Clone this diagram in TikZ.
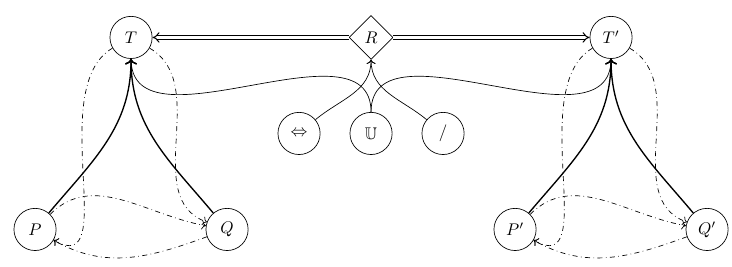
\documentclass[tikz,border=0pt]{standalone}
\usepackage{amssymb}
\usetikzlibrary{arrows.meta,shapes.geometric}
\tikzset{
  obj/.style={circle, draw, minimum size=2.5em, inner sep=0pt},
  rel/.style={diamond, draw, minimum size=2.6em, inner sep=0pt},
  dbl/.style={line width=0.6pt, double=white, double distance=1.5pt, {Implies}-},
  mor/.style={->, thick},
  dd/.style={->, dash dot}
}
\begin{document}
\begin{tikzpicture}
\useasboundingbox (-0.73,-0.78) rectangle (14.52,4.78);
% left triangle
\node[obj] (T) at (2,4) {$T$};
\node[obj] (P) at (0,0) {$P$};
\node[obj] (Q) at (4,0) {$Q$};
% right triangle
\node[obj] (T2) at (12,4) {$T'$};
\node[obj] (P2) at (10,0) {$P'$};
\node[obj] (Q2) at (14,0) {$Q'$};
% middle
\node[rel] (R) at (7,4) {$R$};
\node[obj] (eq) at (5.5,2) {$\Leftrightarrow$};
\node[obj] (U) at (7,2) {$\mathbb{U}$};
\node[obj] (sl) at (8.5,2) {$/$};

\draw[dbl] (T) -- (R);
\draw[dbl] (T2) -- (R);

\draw[mor] (P) to[out=50,in=-90] (T);
\draw[mor] (Q) to[out=130,in=-90] (T);
\draw[dd] (P) to[out=45,in=170] (Q);
\draw[dd] (Q) to[out=200,in=-30] (P);
\draw[dd] (T) to[out=-30,in=160] (Q);
\draw[dd] (T) to[out=210,in=-30] (P);

\draw[mor] (P2) to[out=50,in=-90] (T2);
\draw[mor] (Q2) to[out=130,in=-90] (T2);
\draw[dd] (P2) to[out=45,in=170] (Q2);
\draw[dd] (Q2) to[out=200,in=-30] (P2);
\draw[dd] (T2) to[out=-30,in=160] (Q2);
\draw[dd] (T2) to[out=210,in=-30] (P2);

\draw (T) to[out=-90,in=90] (U);
\draw (T2) to[out=-90,in=90] (U);
\draw[->] (eq) to[out=40,in=-90] (R);
\draw[->] (sl) to[out=140,in=-90] (R);
\end{tikzpicture}
\end{document}
